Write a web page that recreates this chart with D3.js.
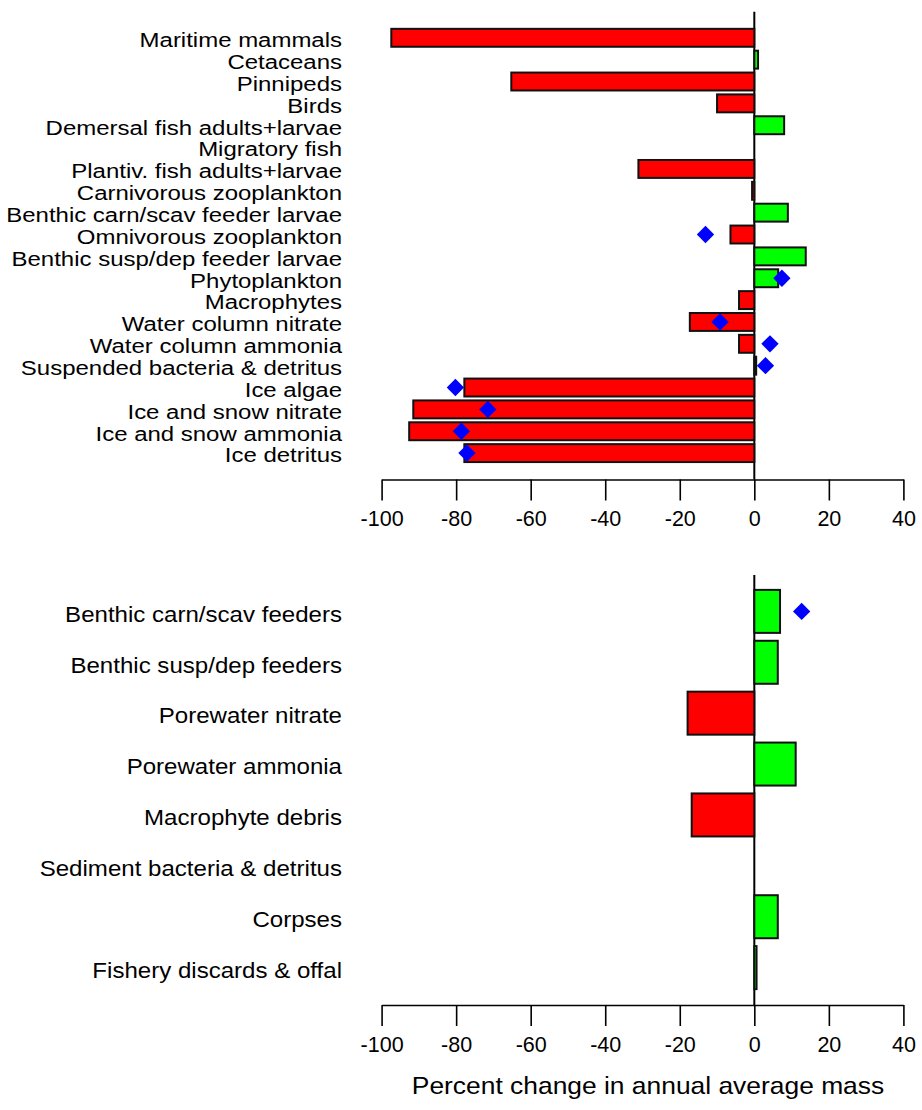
<!DOCTYPE html>
<html>
<head>
<meta charset="utf-8">
<script src="https://cdn.jsdelivr.net/npm/d3@7"></script>
<style>
  html, body { margin: 0; padding: 0; background: #fff; }
  svg { display: block; font-family: "Liberation Sans", Arial, sans-serif; }
</style>
</head>
<body>
<svg id="chart" width="922" height="1110"></svg>
<script>
// ---- Data ----
const topCategories = [
  "Maritime mammals", "Cetaceans", "Pinnipeds", "Birds",
  "Demersal fish adults+larvae", "Migratory fish", "Plantiv. fish adults+larvae",
  "Carnivorous zooplankton", "Benthic carn/scav feeder larvae", "Omnivorous zooplankton",
  "Benthic susp/dep feeder larvae", "Phytoplankton", "Macrophytes",
  "Water column nitrate", "Water column ammonia", "Suspended bacteria & detritus",
  "Ice algae", "Ice and snow nitrate", "Ice and snow ammonia", "Ice detritus"
];
const topValues = [-97.4, 1.0, -65.2, -10.0, 8.0, 0, -31.1, -0.6, 9.0, -6.4,
                   13.8, 6.4, -4.1, -17.3, -4.1, 0.5, -77.8, -91.5, -92.6, -77.8];
const topMarkers = [null, null, null, null, null, null, null, null, null, -13.1,
                    null, 7.4, null, -9.2, 4.2, 3.0, -80.2, -71.5, -78.6, -77.1];

const bottomCategories = [
  "Benthic carn/scav feeders", "Benthic susp/dep feeders", "Porewater nitrate",
  "Porewater ammonia", "Macrophyte debris", "Sediment bacteria & detritus",
  "Corpses", "Fishery discards & offal"
];
const bottomValues = [6.9, 6.3, -17.9, 11.1, -16.8, 0, 6.3, 0.6];
const bottomMarkers = [12.7, null, null, null, null, null, null, null];

const xTicks = [-100, -80, -60, -40, -20, 0, 20, 40];
const xTitle = "Percent change in annual average mass";

// ---- Drawing ----
const svg = d3.select("#chart");
const x = d3.scaleLinear().domain([-100, 40]).range([381.6, 903.4]);
const labelRight = 342;

function panel(cfg) {
  const g = svg.append("g");
  const y = d3.scaleBand().domain(cfg.cats).range(cfg.yRange).padding(cfg.pad);
  const rows = cfg.cats.map((c, i) => ({ c, v: cfg.vals[i], m: cfg.marks[i] }));

  // zero line
  g.append("line")
    .attr("x1", x(0)).attr("x2", x(0))
    .attr("y1", cfg.zeroTop).attr("y2", cfg.axisY)
    .attr("stroke", "#000").attr("stroke-width", 2);

  // bars
  g.selectAll("rect.bar").data(rows).join("rect")
    .attr("class", "bar")
    .attr("x", d => Math.min(x(0), x(d.v)))
    .attr("width", d => Math.abs(x(d.v) - x(0)))
    .attr("y", d => y(d.c))
    .attr("height", y.bandwidth())
    .attr("fill", d => d.v >= 0 ? "#00ff00" : "#ff0000")
    .attr("stroke", "#111")
    .attr("stroke-width", 2);

  // markers
  const sym = d3.symbol().type(d3.symbolSquare).size(150);
  g.selectAll("path.mark").data(rows.filter(d => d.m !== null)).join("path")
    .attr("class", "mark")
    .attr("d", sym)
    .attr("transform", d => `translate(${x(d.m)},${y(d.c) + y.bandwidth() / 2}) rotate(45)`)
    .attr("fill", "#0000ff");

  // category labels
  const ya = g.append("g")
    .attr("transform", `translate(${labelRight},0) scale(${cfg.labelStretch},1)`)
    .call(d3.axisLeft(y).tickSize(0).tickPadding(0));
  ya.select(".domain").remove();
  ya.selectAll("text")
    .attr("font-size", cfg.labelSize)
    .attr("font-family", "Liberation Sans, Arial, sans-serif")
    .attr("fill", "#000")
    .attr("dy", cfg.labelDy);

  // x axis
  const xa = g.append("g")
    .attr("transform", `translate(0,${cfg.axisY})`)
    .call(d3.axisBottom(x).tickValues(xTicks).tickFormat(d => String(d))
      .tickSize(21).tickSizeOuter(0).tickPadding(cfg.tickPad));
  xa.select(".domain").attr("stroke", "#000").attr("stroke-width", 1.6);
  xa.selectAll(".tick line").attr("stroke", "#000").attr("stroke-width", 1.6);
  xa.selectAll("text")
    .attr("font-size", 21.5)
    .attr("font-family", "Liberation Sans, Arial, sans-serif")
    .attr("fill", "#000");
}

panel({
  cats: topCategories, vals: topValues, marks: topMarkers,
  yRange: [24.9, 466], pad: 0.18, zeroTop: 11.7, axisY: 479.5,
  labelSize: 19.5, labelDy: "0.48em", labelStretch: 1.23, tickPad: 10
});
panel({
  cats: bottomCategories, vals: bottomValues, marks: bottomMarkers,
  yRange: [582, 997], pad: 0.155, zeroTop: 575, axisY: 1005,
  labelSize: 21.5, labelDy: "0.48em", labelStretch: 1.12, tickPad: 11
});

svg.append("g")
  .attr("transform", "translate(648,1085) scale(1.1,1)")
  .append("text")
  .attr("text-anchor", "middle")
  .attr("dominant-baseline", "central")
  .attr("font-size", 24)
  .attr("fill", "#000")
  .text(xTitle);
</script>
</body>
</html>
